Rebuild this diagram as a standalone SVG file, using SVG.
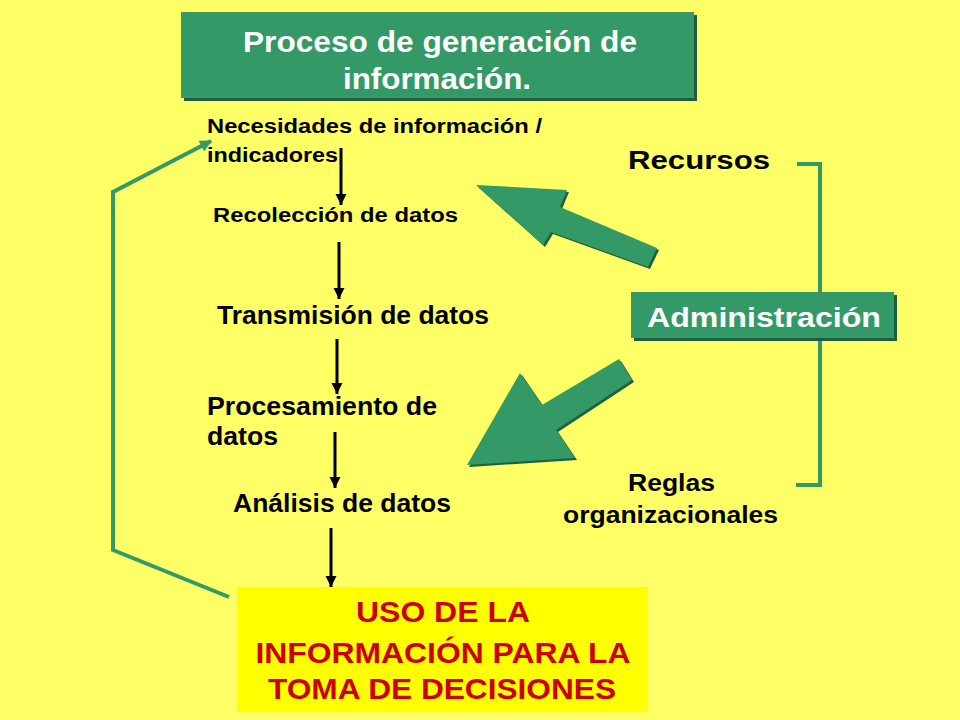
<svg xmlns="http://www.w3.org/2000/svg" width="960" height="720" viewBox="0 0 960 720">
  <defs>
    <style>
      .t { font-family: "Liberation Sans", Arial, sans-serif; font-weight: bold; }
      .blk { fill: #000000; }
      .wht { fill: #FFFFFF; }
      .red { fill: #CC0000; }
      .flow { stroke: #000000; stroke-width: 3; fill: none; marker-end: url(#blackHead); }
      .gline { stroke: #339966; stroke-width: 4; fill: none; stroke-linejoin: miter; }
      .gbox { fill: #339966; }
      .gshadow { fill: #1F5F3F; }
    </style>
    <marker id="blackHead" viewBox="0 0 10 10" refX="10" refY="5" markerWidth="11" markerHeight="12" markerUnits="userSpaceOnUse" orient="auto">
      <path d="M0,0 L10,5 L0,10 z" fill="#000000"/>
    </marker>
    <marker id="greenHead" viewBox="0 0 10 10" refX="9" refY="5" markerWidth="14" markerHeight="12" markerUnits="userSpaceOnUse" orient="auto">
      <path d="M0,0 L10,5 L0,10 z" fill="#339966"/>
    </marker>
  </defs>

  <rect x="0" y="0" width="960" height="720" fill="#FFFF66"/>

  <g id="connectors">
    <line class="flow" x1="341" y1="148" x2="341" y2="205"/>
    <line class="flow" x1="339" y1="242" x2="339" y2="299"/>
    <line class="flow" x1="337" y1="339" x2="337" y2="394"/>
    <line class="flow" x1="335" y1="432" x2="335" y2="488"/>
    <line class="flow" x1="331" y1="528" x2="331" y2="587"/>
    <polyline class="gline" points="229,597 113,550 113,192 211,141" marker-end="url(#greenHead)"/>
    <polyline class="gline" points="797,164 820,164 820,485 796,485"/>
    <g id="arrow-recursos">
      <polygon points="478,187 569,192 562,209 659,250 650,269 553,234 545,247" fill="#1F5F3F"/>
      <polygon points="476,185 567,190 560,207 657,248 648,267 551,232 543,245" fill="#339966"/>
    </g>
    <g id="arrow-reglas">
      <polygon points="469,467 522,375 544,407 621,361 634,382 558,432 577,460" fill="#1F5F3F"/>
      <polygon points="467,465 520,373 542,405 619,359 632,380 556,430 575,458" fill="#339966"/>
    </g>
  </g>

  <g id="title">
    <rect class="gshadow" x="184" y="15" width="513" height="86"/>
    <rect class="gbox" x="181" y="12" width="513" height="86"/>
    <text class="t wht" x="440" y="52" font-size="29" text-anchor="middle" textLength="394" lengthAdjust="spacingAndGlyphs">Proceso de generación de</text>
    <text class="t wht" x="437" y="89" font-size="29" text-anchor="middle" textLength="188" lengthAdjust="spacingAndGlyphs">información.</text>
  </g>

  <g id="necesidades">
    <text class="t blk" x="207" y="133" font-size="20" textLength="335" lengthAdjust="spacingAndGlyphs">Necesidades de información /</text>
    <text class="t blk" x="207" y="162" font-size="20" textLength="131" lengthAdjust="spacingAndGlyphs">indicadores</text>
  </g>

  <g id="recoleccion">
    <text class="t blk" x="213" y="222" font-size="20" textLength="245" lengthAdjust="spacingAndGlyphs">Recolección de datos</text>
  </g>

  <g id="transmision">
    <text class="t blk" x="217" y="324" font-size="25" textLength="272" lengthAdjust="spacingAndGlyphs">Transmisión de datos</text>
  </g>

  <g id="procesamiento">
    <text class="t blk" x="207" y="415" font-size="25" textLength="230" lengthAdjust="spacingAndGlyphs">Procesamiento de</text>
    <text class="t blk" x="207" y="445" font-size="25" textLength="71" lengthAdjust="spacingAndGlyphs">datos</text>
  </g>

  <g id="analisis">
    <text class="t blk" x="233" y="512" font-size="25" textLength="218" lengthAdjust="spacingAndGlyphs">Análisis de datos</text>
  </g>

  <g id="uso">
    <rect x="237" y="587" width="411" height="125" fill="#FFFF00"/>
    <text class="t red" x="443" y="622" font-size="30" text-anchor="middle" textLength="174" lengthAdjust="spacingAndGlyphs">USO DE LA</text>
    <text class="t red" x="443" y="663" font-size="30" text-anchor="middle" textLength="375" lengthAdjust="spacingAndGlyphs">INFORMACIÓN PARA LA</text>
    <text class="t red" x="442" y="699" font-size="30" text-anchor="middle" textLength="348" lengthAdjust="spacingAndGlyphs">TOMA DE DECISIONES</text>
  </g>

  <g id="recursos">
    <text class="t blk" x="628" y="169" font-size="26" textLength="142" lengthAdjust="spacingAndGlyphs">Recursos</text>
  </g>

  <g id="administracion">
    <rect class="gshadow" x="634" y="295" width="263" height="46"/>
    <rect class="gbox" x="631" y="292" width="263" height="46"/>
    <text class="t wht" x="647" y="327" font-size="28" textLength="234" lengthAdjust="spacingAndGlyphs">Administración</text>
  </g>

  <g id="reglas">
    <text class="t blk" x="628" y="491" font-size="23" textLength="87" lengthAdjust="spacingAndGlyphs">Reglas</text>
    <text class="t blk" x="563" y="523" font-size="23" textLength="215" lengthAdjust="spacingAndGlyphs">organizacionales</text>
  </g>
</svg>
